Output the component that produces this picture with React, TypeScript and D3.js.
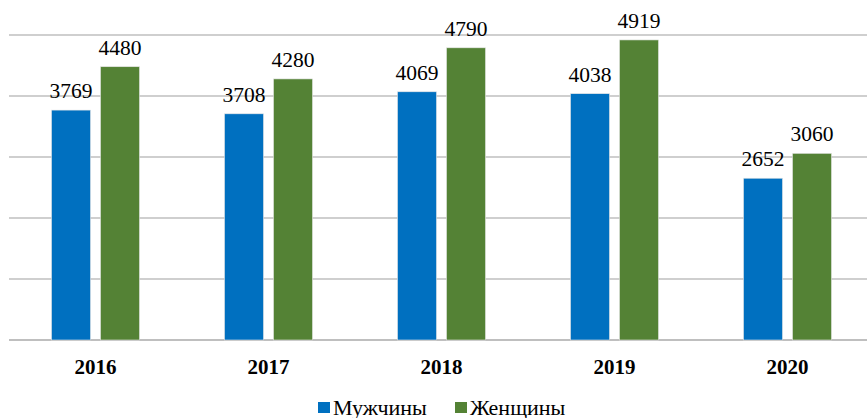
import React from "react";
import * as d3 from "d3";

const years = ["2016", "2017", "2018", "2019", "2020"];
const men = [3769, 3708, 4069, 4038, 2652];
const women = [4480, 4280, 4790, 4919, 3060];
const seriesNames = ["Мужчины", "Женщины"];
const seriesColors = ["#0070C0", "#548235"];
const yTicks = [0, 1000, 2000, 3000, 4000, 5000];

export default function App() {
  const W = 867, H = 418;
  const left = 9, right = 874, top = 35, bottom = 340;
  const x = d3.scaleBand<string>().domain(years).range([left, right]);
  const y = d3.scaleLinear().domain([0, 5000]).range([bottom, top]);
  const barW = 39, gap = 10;
  const series = [men, women];
  const font = "Liberation Serif";
  return (
    <svg width={W} height={H} style={{ position: "absolute", left: 0, top: 0, background: "#fff" }}>
      {yTicks.map((t) => (
        <line key={t} x1={left} x2={W} y1={y(t)} y2={y(t)} stroke="#bfbfbf" strokeWidth={t === 0 ? 2 : 1.5} />
      ))}
      {years.map((yr, i) => {
        const c = (x(yr) as number) + x.bandwidth() / 2;
        return (
          <g key={yr}>
            {series.map((s, k) => {
              const bx = k === 0 ? c - gap / 2 - barW : c + gap / 2;
              return (
                <g key={k}>
                  <rect x={bx} y={y(s[i])} width={barW} height={bottom - y(s[i])} fill={seriesColors[k]} stroke="#e6e6e6" strokeWidth={0.6} />
                  <text x={bx + barW / 2} y={y(s[i]) - 12} textAnchor="middle" fontFamily={font} fontSize={21.5} fill="#000">
                    {s[i]}
                  </text>
                </g>
              );
            })}
            <text x={c} y={374} textAnchor="middle" fontFamily={font} fontSize={21} fontWeight="bold" fill="#000">
              {yr}
            </text>
          </g>
        );
      })}
      {seriesNames.map((n, k) => {
        const lx = k === 0 ? 318 : 455;
        return (
          <g key={n}>
            <rect x={lx} y={402} width={12} height={11} fill={seriesColors[k]} />
            <text x={lx + 15} y={415} fontFamily={font} fontSize={22} fill="#000">{n}</text>
          </g>
        );
      })}
    </svg>
  );
}
